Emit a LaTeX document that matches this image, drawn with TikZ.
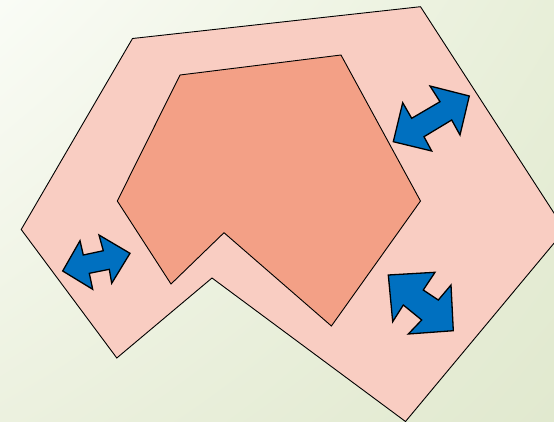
\documentclass[tikz,border=0pt]{standalone}
\usetikzlibrary{shadings}
\definecolor{bgA}{HTML}{FAFCF6}
\definecolor{bgB}{HTML}{E8EFD9}
\definecolor{bgC}{HTML}{ECF1DF}
\definecolor{bgD}{HTML}{E1E9CF}
\definecolor{outerfill}{HTML}{F9CDC2}
\definecolor{innerfill}{HTML}{F3A086}
\definecolor{arrowblue}{HTML}{0070C0}
\tikzset{
  outershape/.style={fill=outerfill, draw=black, line width=0.9pt, line join=miter},
  innershape/.style={fill=innerfill, draw=black, line width=0.9pt, line join=miter},
  dblarrow/.style={fill=arrowblue, draw=black, line width=1.3pt, line join=miter}
}
\begin{document}
\begin{tikzpicture}[x=1pt,y=-1pt]
\useasboundingbox (0,0) rectangle (554,421);
\clip (0,0) rectangle (554,421);
\shade[upper left=bgA, upper right=bgB, lower left=bgC, lower right=bgD] (0,0) rectangle (554,421);
% outer polygon
\draw[outershape] (132.5,38.5) -- (420.5,6.7) -- (565,230) -- (405.5,421.5) -- (212,278) -- (116.8,358) -- (21.2,229.5) -- cycle;
% inner polygon
\draw[innershape] (180,75) -- (341,55) -- (420.5,201) -- (331.4,326) -- (224,232.7) -- (171,284) -- (117.3,201) -- cycle;
% arrow top right
\draw[dblarrow] (393.3,141.7) -- (402.7,102.7) -- (411.7,118.3) -- (440,101.7) -- (430,86) -- (469.3,96) -- (460,135) -- (451.7,120) -- (424,136.7) -- (431.7,151) -- cycle;
% arrow left
\draw[dblarrow] (62.7,271) -- (80,240.7) -- (83.3,255) -- (103.3,250.7) -- (99,235) -- (130,253.3) -- (111.7,283.3) -- (109.3,269.3) -- (89.3,273.3) -- (92.7,289.3) -- cycle;
% arrow bottom right
\draw[dblarrow] (388.3,275) -- (435,272.3) -- (423.3,290) -- (438.3,300) -- (451,285) -- (453.3,330.7) -- (408.3,334) -- (421.7,320) -- (403.3,305) -- (392.7,321.7) -- cycle;
\end{tikzpicture}
\end{document}
